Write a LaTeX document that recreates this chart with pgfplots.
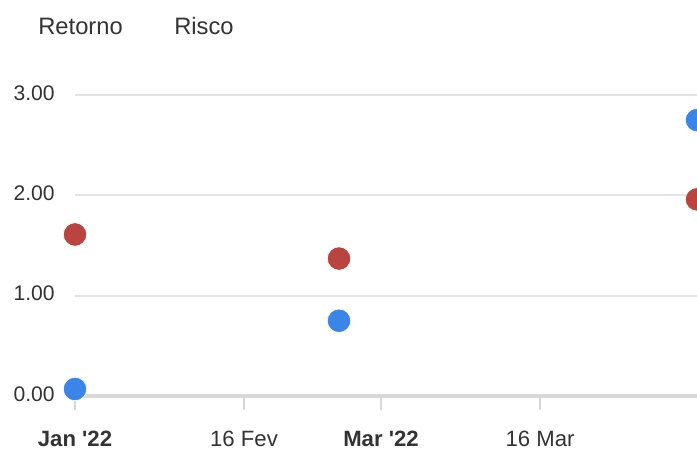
\documentclass[border=0pt]{standalone}
\usepackage{fontspec}
\setmainfont{Liberation Sans}
\usepackage{pgfplots}
\pgfplotsset{compat=1.18}
\definecolor{txt}{HTML}{333333}
\definecolor{gridc}{HTML}{E3E3E3}
\definecolor{axisc}{HTML}{D8D8D8}
\definecolor{blueM}{HTML}{3B84E8}
\definecolor{redM}{HTML}{BA443F}

% x is measured in picture pixels from the first tick
\pgfplotstableread{
x    y
0    0.07
264  0.75
622  2.75
}\retorno
\pgfplotstableread{
x    y
0    1.61
264  1.37
622  1.96
}\risco

\begin{document}
\begin{tikzpicture}
\begin{axis}[
    at={(0,0)}, anchor=south west,
    scale only axis,
    width=12.44cm, height=6.02cm,
    xmin=0, xmax=622, ymin=0, ymax=3,
    axis line style={draw=none},
    ymajorgrids,
    grid style={gridc, line width=1.1pt},
    ytick={0,1,2,3},
    yticklabels={0.00,1.00,2.00,3.00},
    ytick style={draw=none},
    yticklabel style={anchor=east, inner sep=0pt, xshift=-0.4cm, yshift=0.04cm,
        font=\fontsize{12}{14}\selectfont, text=txt},
    xtick={0,169,306,465},
    xticklabels={\textbf{Jan \textquotesingle22},16 Fev,\textbf{Mar \textquotesingle22},16 Mar},
    xtick pos=bottom,
    xtick align=outside,
    major tick length=0.28cm,
    xtick style={axisc, line width=1pt},
    xticklabel style={anchor=center, yshift=-0.58cm,
        font=\fontsize{12.6}{14}\selectfont, text=txt},
    extra y ticks={0},
    extra y tick labels={},
    extra y tick style={grid style={axisc, line width=2pt}},
]
\addplot[only marks, mark=*, mark size=0.235cm, mark options={fill=redM, draw=white, line width=0.4pt}] table[x=x,y=y] {\risco};
\addplot[only marks, mark=*, mark size=0.235cm, mark options={fill=blueM, draw=white, line width=0.4pt}] table[x=x,y=y] {\retorno};
\end{axis}
\node[anchor=west, inner sep=0pt, text=txt, font=\fontsize{13.5}{16}\selectfont] at (-0.74,7.4) {Retorno};
\node[anchor=west, inner sep=0pt, text=txt, font=\fontsize{13.5}{16}\selectfont] at (1.98,7.4) {Risco};
\pgfresetboundingbox
\useasboundingbox (-1.5,-1.08) rectangle (12.44,7.92);
\end{tikzpicture}
\end{document}
